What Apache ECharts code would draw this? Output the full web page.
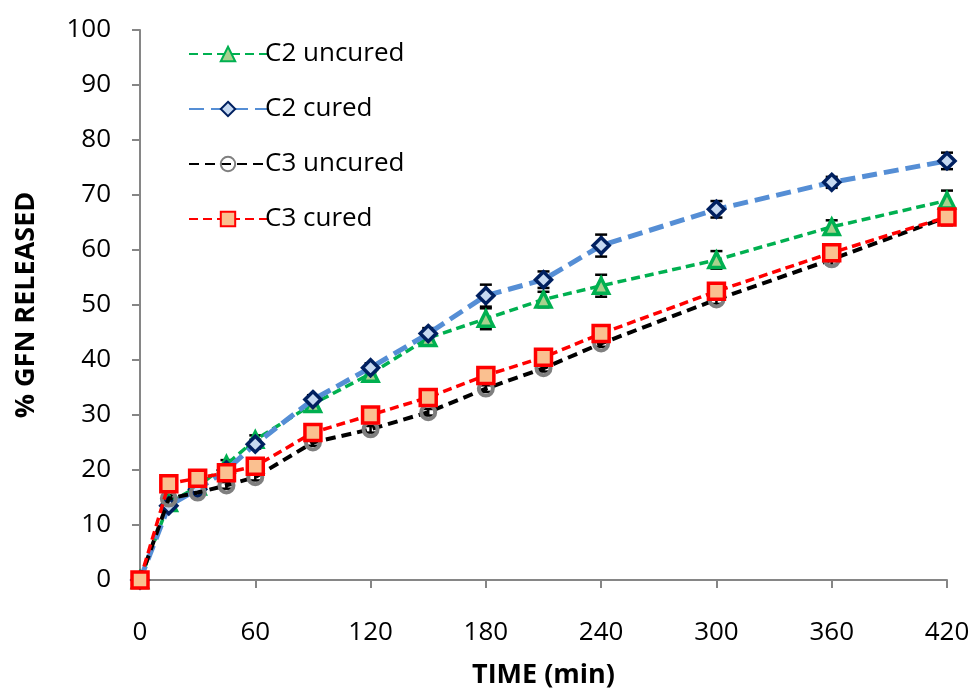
<!DOCTYPE html>
<html><head><meta charset="utf-8">
<script src="https://cdn.jsdelivr.net/npm/echarts@6/dist/echarts.min.js"></script>
<style>html,body{margin:0;padding:0;background:#fff;overflow:hidden}#c{width:973px;height:691px}</style>
</head><body><div id="c"></div>
<script>
var times = [0, 15, 30, 45, 60, 90, 120, 150, 180, 210, 240, 300, 360, 420];
var seriesNames = ['C2 uncured', 'C2 cured', 'C3 uncured', 'C3 cured'];
var c2Uncured = [0, 14.0, 17.0, 21.0, 25.5, 32.0, 37.5, 44.0, 47.5, 51.0, 53.5, 58.2, 64.2, 69.0];
var c2Cured   = [0, 13.5, 16.5, 20.0, 24.7, 32.8, 38.6, 44.8, 51.7, 54.6, 60.8, 67.4, 72.3, 76.2];
var c3Uncured = [0, 14.8, 15.9, 17.2, 18.7, 25.0, 27.4, 30.5, 34.8, 38.5, 43.0, 51.0, 58.3, 66.0];
var c3Cured   = [0, 17.5, 18.5, 19.5, 20.7, 26.8, 30.0, 33.2, 37.2, 40.5, 44.8, 52.5, 59.5, 66.0];
var c2UncuredErr = [0, 0.8, 0.8, 0.8, 0.8, 0.8, 0.8, 1.0, 1.9, 1.4, 2.0, 1.6, 1.2, 1.8];
var c2CuredErr   = [0, 0.8, 0.8, 0.8, 0.8, 0.8, 0.8, 1.0, 2.0, 1.5, 2.0, 1.5, 1.0, 1.5];
var c3UncuredErr = [0, 0.6, 0.6, 0.6, 0.6, 0.6, 0.6, 0.6, 0.6, 0.6, 0.6, 0.8, 1.0, 1.0];
var c3CuredErr   = [0, 0.6, 0.6, 0.6, 0.6, 0.6, 0.6, 0.6, 0.6, 1.0, 0.8, 1.2, 1.5, 1.5];
var xTicks = [0, 60, 120, 180, 240, 300, 360, 420];
var yTicks = [0, 10, 20, 30, 40, 50, 60, 70, 80, 90, 100];

var FONT = '"Open Sans", "Noto Sans", sans-serif';
function pairs(vals){ return times.map(function(t,i){ return [t, vals[i]]; }); }
function errData(vals, errs){ return times.map(function(t,i){ return [t, vals[i]-errs[i], vals[i]+errs[i]]; }); }
function errSeries(vals, errs, z){
  return {
    type: 'custom', silent: true, z: z,
    data: errData(vals, errs),
    renderItem: function(params, api){
      var x = api.value(0), lo = api.value(1), hi = api.value(2);
      if (hi - lo <= 0) return null;
      var p1 = api.coord([x, lo]), p2 = api.coord([x, hi]);
      var w = 6;
      var st = {stroke: '#000', lineWidth: 2.5, fill: null};
      return {type: 'group', children: [
        {type: 'line', shape: {x1: p1[0], y1: p1[1], x2: p2[0], y2: p2[1]}, style: st},
        {type: 'line', shape: {x1: p1[0]-w, y1: p1[1], x2: p1[0]+w, y2: p1[1]}, style: st},
        {type: 'line', shape: {x1: p2[0]-w, y1: p2[1], x2: p2[0]+w, y2: p2[1]}, style: st}
      ]};
    }
  };
}
var diamond = 'path://M0,-1 L1,0 L0,1 L-1,0 Z';
var chart = echarts.init(document.getElementById('c'), null, {renderer: 'canvas'});
chart.setOption({
  animation: false,
  backgroundColor: '#fff',
  grid: {left: 140, right: 26, top: 30, bottom: 111, containLabel: false, outerBoundsMode: 'none'},
  legend: {
    data: seriesNames,
    orient: 'vertical', left: 183, top: 36,
    itemWidth: 78, itemHeight: 18, itemGap: 29,
    textStyle: {fontFamily: FONT, fontSize: 26, color: '#000', padding: [0,0,0,-7]}
  },
  xAxis: {
    type: 'value', min: 0, max: 420, interval: 60,
    name: 'TIME (min)', nameLocation: 'middle', nameGap: 82,
    nameTextStyle: {fontFamily: FONT, fontSize: 27, fontWeight: 'bold', color: '#000'},
    axisLine: {show: true, lineStyle: {color: '#868686', width: 2}},
    axisTick: {show: true, length: 8, lineStyle: {color: '#868686', width: 2}},
    axisLabel: {fontFamily: FONT, fontSize: 26, color: '#000', margin: 40,
      formatter: function(v){ return xTicks.indexOf(v) >= 0 ? String(v) : ''; }},
    splitLine: {show: false}
  },
  yAxis: {
    type: 'value', min: 0, max: 100, interval: 10,
    name: '% GFN RELEASED', nameLocation: 'middle', nameGap: 100, nameRotate: 90,
    nameTextStyle: {fontFamily: FONT, fontSize: 27, fontWeight: 'bold', color: '#000'},
    axisLine: {show: true, lineStyle: {color: '#868686', width: 2}},
    axisTick: {show: true, length: 8, lineStyle: {color: '#868686', width: 2}},
    axisLabel: {fontFamily: FONT, fontSize: 26, color: '#000', margin: 29,
      formatter: function(v){ return yTicks.indexOf(v) >= 0 ? String(v) : ''; }},
    splitLine: {show: false}
  },
  series: [
    errSeries(c2Uncured, c2UncuredErr, 1),
    errSeries(c2Cured, c2CuredErr, 1),
    errSeries(c3Uncured, c3UncuredErr, 1),
    errSeries(c3Cured, c3CuredErr, 1),
    {name: 'C2 uncured', type: 'line', data: pairs(c2Uncured), z: 2,
      symbol: 'triangle', symbolSize: 15, showAllSymbol: true,
      lineStyle: {color: '#00B050', width: 3.5, type: [9, 5]},
      itemStyle: {color: '#A9D18E', borderColor: '#00B050', borderWidth: 3.5}},
    {name: 'C2 cured', type: 'line', data: pairs(c2Cured), z: 3,
      symbol: diamond, symbolSize: 16, showAllSymbol: true,
      lineStyle: {color: '#558ED5', width: 5, type: [15, 7]},
      itemStyle: {color: '#C6D9F1', borderColor: '#002060', borderWidth: 3.5}},
    {name: 'C3 uncured', type: 'line', data: pairs(c3Uncured), z: 4,
      symbol: 'circle', symbolSize: 14, showAllSymbol: true,
      lineStyle: {color: '#000000', width: 4, type: [10, 6]},
      itemStyle: {color: 'rgba(0,0,0,0)', borderColor: '#7F7F7F', borderWidth: 4}},
    {name: 'C3 cured', type: 'line', data: pairs(c3Cured), z: 5,
      symbol: 'rect', symbolSize: 16, showAllSymbol: true,
      lineStyle: {color: '#FF0000', width: 3.5, type: [9, 5]},
      itemStyle: {color: '#FAC090', borderColor: '#FF0000', borderWidth: 3.5}}
  ]
});
</script></body></html>
